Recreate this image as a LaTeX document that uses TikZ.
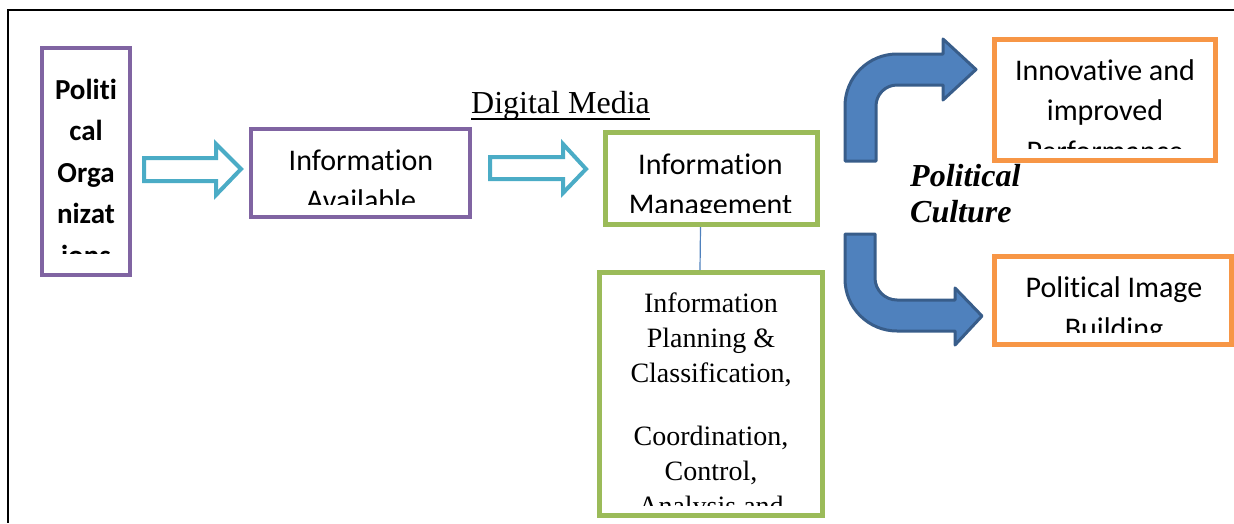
\documentclass[tikz,border=0pt]{standalone}
\usepackage{fontspec}
\setmainfont{Liberation Serif}
\newfontfamily\carlito[Ligatures=NoCommon]{Carlito}
\definecolor{cpurple}{HTML}{8064A2}
\definecolor{cteal}{HTML}{4BACC6}
\definecolor{cgreen}{HTML}{9BBB59}
\definecolor{corange}{HTML}{F79646}
\definecolor{cblue}{HTML}{4F81BD}
\definecolor{cdblue}{HTML}{385D8A}
\tikzset{
  boxp/.style={draw=cpurple,line width=4.5pt,fill=white,inner sep=0,minimum width=#1},
  boxg/.style={draw=cgreen,line width=5pt,fill=white,inner sep=0},
  boxo/.style={draw=corange,line width=5pt,fill=white,inner sep=0},
  txt/.style={inner sep=0,anchor=base,font=\carlito\fontsize{30}{34}\selectfont},
  txtb/.style={txt,font=\carlito\bfseries\fontsize{29}{34}\selectfont},
  txts/.style={inner sep=0,anchor=base,font=\fontsize{28}{30}\selectfont},
  hollow/.style={draw=cteal,line width=4pt,fill=white,line join=miter},
  bentarrow/.style={draw=cdblue,line width=3pt,fill=cblue,line join=round},
}
\begin{document}
\begin{tikzpicture}[x=1pt,y=-1pt]
\useasboundingbox (0,0) rectangle (1234,523);
% frame
\draw[line width=2pt] (1234,10) -- (8,10) -- (8,523);
% boxes
\node[boxp=88pt,minimum height=227pt] (b1) at (86,161.5) {};
\node[boxp=219pt,minimum height=88pt] (b2) at (360.5,173) {};
\node[boxg,minimum width=212pt,minimum height=92pt] (b3) at (711.5,178.5) {};
\node[boxg,minimum width=223pt,minimum height=243pt] (b4) at (711,394) {};
\node[boxo,minimum width=221pt,minimum height=121pt] (b5) at (1105,100) {};
\node[boxo,minimum width=237pt,minimum height=88pt] (b6) at (1112.5,300.5) {};
% box texts (clipped)
\begin{scope}
\clip (45,50) rectangle (127,253);
\foreach \t [count=\i] in {Politi,cal,Orga,nizat,ions}
  \node[txtb] (po\i) at (86,{99+41.5*(\i-1)}) {\t};
\end{scope}
\begin{scope}
\clip (255,133) rectangle (466,204);
\node[txt] (ia1) at (361,170) {Information};
\node[txt] (ia2) at (361,210) {Available};
\end{scope}
\begin{scope}
\clip (609,136) rectangle (814,212);
\node[txt] (im1) at (710.5,174) {Information};
\node[txt] (im2) at (710.5,214) {Management};
\end{scope}
\begin{scope}
\clip (602,275) rectangle (820,505);
\node[txts] (ip1) at (711,312) {Information};
\node[txts] (ip2) at (711,347) {Planning \&};
\node[txts] (ip3) at (711,382) {Classification,};
\node[txts] (ip4) at (711,445) {Coordination,};
\node[txts] (ip5) at (711,480) {Control,};
\node[txts] (ip6) at (711,515) {Analysis and};
\end{scope}
\begin{scope}
\clip (997,42) rectangle (1213,148);
\node[txt] (ii1) at (1105,80) {Innovative and};
\node[txt] (ii2) at (1105,120) {improved};
\node[txt] (ii3) at (1105,161) {Performance};
\end{scope}
\begin{scope}
\clip (997,259) rectangle (1229,332);
\node[txt] (pi1) at (1114,297) {Political Image};
\node[txt] (pi2) at (1114,338) {Building};
\end{scope}
% connector
\draw[cblue,line width=1.2pt] ([xshift=-11pt]b3.south) -- ([xshift=-11pt]b4.north);
% hollow arrows
\draw[hollow] (144,158) -- (216,158) -- (216,144) -- (241,169) -- (216,195) -- (216,181) -- (144,181) -- cycle;
\draw[hollow] (490,157) -- (563,157) -- (563,144) -- (586,169) -- (563,193) -- (563,179) -- (490,179) -- cycle;
% labels
\node[inner sep=0,anchor=base west,font=\fontsize{32}{36}\selectfont] (dm) at (471,113) {Digital Media};
\draw[line width=1.3pt] ([yshift=-6pt]dm.base west) -- ([yshift=-6pt]dm.base east);
\node[inner sep=0,anchor=base west,font=\bfseries\itshape\fontsize{32}{34}\selectfont] (pc1) at (910,186) {Political};
\node[inner sep=0,anchor=base west,font=\bfseries\itshape\fontsize{32}{34}\selectfont] (pc2) at (910,222) {Culture};
% bent arrows
\draw[bentarrow] (845,161) -- (845,106) .. controls (845,77.3) and (868.3,54) .. (897,54) -- (943,54) -- (943,39) -- (976,69.5) -- (943,100) -- (943,85) -- (897,85) .. controls (885.4,85) and (876,94.4) .. (876,106) -- (876,161) -- cycle;
\draw[bentarrow] (845,234) -- (845,279) .. controls (845,307.7) and (868.3,331) .. (897,331) -- (955,331) -- (955,345) -- (982,316) -- (955,288) -- (955,300) -- (897,300) .. controls (884.9,300) and (875,290.1) .. (875,278) -- (875,234) -- cycle;
\end{tikzpicture}
\end{document}
